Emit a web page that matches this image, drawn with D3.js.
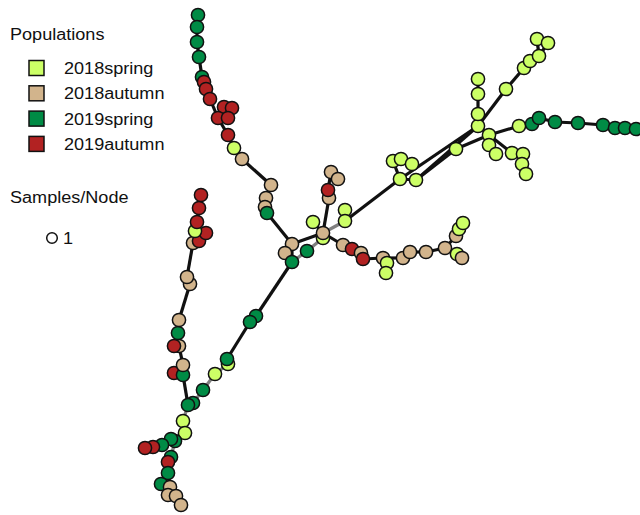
<!DOCTYPE html>
<html>
<head>
<meta charset="utf-8">
<script src="https://cdn.jsdelivr.net/npm/d3@7"></script>
<style>
  body { margin: 0; background: #fff; }
  svg { display: block; font-family: "Liberation Sans", Arial, sans-serif; }
</style>
</head>
<body>
<script>
// populations (legend order) and their fills
const populations = ['2018spring', '2018autumn', '2019spring', '2019autumn']
const popColors = ['#ccff66', '#d2b48c', '#008b45', '#b22222']

// haplotype nodes: layout coordinates and population index (0..3)
const nodeX = [198,197,197,199,202,204,206,210,224,232,218,228,228,234,242,271,266,265,267,292,285,292,307,323,323,313,329,328,331,338,345,345,343,352,361,363,383,387,386,403,410,426,445,456,459,463,457,462,
  400,416,393,401,412,456,478,478,478,478,489,489,496,512,523,522,526,506,524,530,539,537,548,519,532,539,555,578,603,615,625,636,
  256,250,228,227,215,203,193,188,183,185,175,171,162,153,145,171,168,168,161,170,168,176,181,
  174,183,183,179,174,178,179,190,187,193,199,206,195,197,199,201]
const nodeY = [15,27,42,57,77,82,89,99,107,108,118,118,135,148,159,185,198,207,213,244,253,262,251,238,233,222,198,190,172,179,210,221,245,249,253,259,258,263,273,258,252,252,248,236,229,223,254,258,
  179,180,161,159,164,149,126,114,94,79,135,145,154,153,154,164,174,89,68,61,56,39,43,126,124,118,122,123,125,128,128,129,
  316,322,364,359,374,390,403,405,421,433,441,439,445,447,448,457,462,473,484,487,495,496,505,
  373,375,365,346,346,333,320,284,277,243,241,233,231,222,208,195]
const nodePop = [2,2,2,2,2,3,3,3,3,3,3,3,3,0,1,1,1,1,2,1,1,2,2,0,1,0,1,3,1,1,0,0,1,3,1,3,1,0,0,1,1,1,1,1,0,0,0,1,
  0,0,0,0,0,0,0,0,0,0,0,0,0,0,0,0,0,0,0,0,0,0,0,0,2,2,2,2,2,2,2,2,
  2,2,0,2,0,2,2,2,0,0,2,2,2,3,3,2,3,2,2,1,1,1,1,
  3,2,1,1,3,2,1,1,1,1,3,3,0,3,3,3]

// links drawn as chains of node indices
const blackChains = [
  [0,1,2,3,4,5,6,7,10,12,13,14,15,16,17,18,19,24],
  [10,8,9], [10,11], [19,20], [19,21],
  [24,26,27,28,29], [24,25], [31,30], [31,48],
  [24,32,33,34,35,36,37,38], [36,39,40,41,42,43,44,45], [42,46,47],
  [48,49], [48,50,51,52], [48,54], [49,54], [49,53,58], [54,58],
  [54,55,56,57], [54,65,66,67,68,69], [68,70],
  [58,59,60], [58,61,62,63,64], [58,71,72,73,74,75,76,77,78,79],
  [21,80,81,83,82],
  [87,104,105,106,108,109,110,111,112,113,115,116,117,118], [104,103], [106,107], [115,114],
  [89,90,91,92,93,94], [95,96,97,98], [97,99,100,101,102]
]
const grayChains = [
  [21,22,23,24,31], [82,84,85,86,87], [87,88,89], [90,95]
]

const width = 640
const height = 515
const nodeRadius = 6.6
const textStretch = 1.13

const x = d3.scaleLinear().domain([0, 640]).range([0, width])
const y = d3.scaleLinear().domain([0, 515]).range([0, height])
const color = d3.scaleOrdinal().domain(d3.range(populations.length)).range(popColors)

const nodes = nodeX.map((d, i) => ({ x: d, y: nodeY[i], pop: nodePop[i] }))

const toLinks = (chains, stroke) => chains.flatMap(c =>
  d3.pairs(c).map(([a, b]) => ({ source: nodes[a], target: nodes[b], stroke })))

const links = toLinks(grayChains, '#7f7f7f').concat(toLinks(blackChains, '#111'))

const svg = d3.select('body').append('svg')
  .attr('width', width)
  .attr('height', height)

svg.append('g')
  .selectAll('line')
  .data(links)
  .join('line')
    .attr('x1', d => x(d.source.x))
    .attr('y1', d => y(d.source.y))
    .attr('x2', d => x(d.target.x))
    .attr('y2', d => y(d.target.y))
    .attr('stroke', d => d.stroke)
    .attr('stroke-width', 3.2)

svg.append('g')
  .selectAll('circle')
  .data(nodes)
  .join('circle')
    .attr('cx', d => x(d.x))
    .attr('cy', d => y(d.y))
    .attr('r', nodeRadius)
    .attr('fill', d => color(d.pop))
    .attr('stroke', '#111')
    .attr('stroke-width', 1.5)

// legend
const legend = svg.append('g').style('font-size', '16px').attr('fill', '#111')

// the reference text is a little wider than Liberation Sans
const label = (g, tx, ty, str) => g.append('text')
  .attr('transform', `translate(${tx}, ${ty}) scale(${textStretch}, 1)`)
  .text(str)

label(legend, 10, 40, 'Populations')

const item = legend.selectAll('g.item')
  .data(populations)
  .join('g')
    .attr('class', 'item')
    .attr('transform', (d, i) => `translate(0, ${68 + i * 25.3})`)

item.append('rect')
  .attr('x', 29)
  .attr('y', -7.5)
  .attr('width', 15)
  .attr('height', 15)
  .attr('fill', (d, i) => color(i))
  .attr('stroke', '#111')
  .attr('stroke-width', 1.5)

item.each(function (d) { label(d3.select(this), 64, 6, d) })

label(legend, 10, 203, 'Samples/Node')

legend.append('circle')
  .attr('cx', 52)
  .attr('cy', 238)
  .attr('r', 5.3)
  .attr('fill', 'none')
  .attr('stroke', '#111')
  .attr('stroke-width', 1.5)

label(legend, 63, 244, '1')
</script>
</body>
</html>
